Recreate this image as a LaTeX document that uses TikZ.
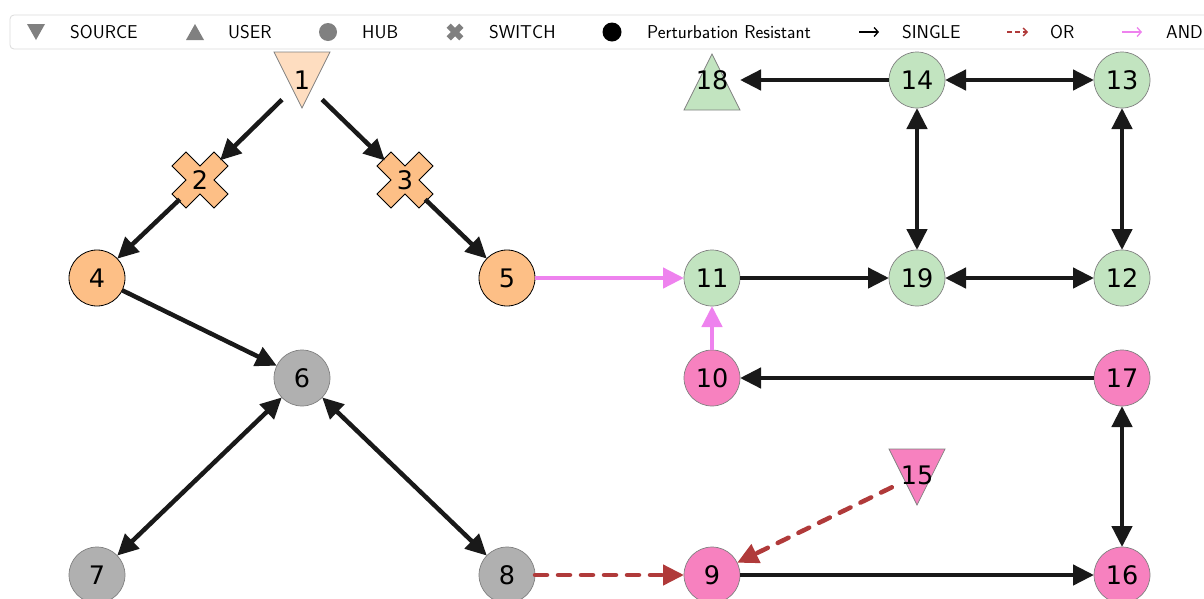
\documentclass[tikz,border=0pt]{standalone}
\usepackage{fontspec}
\newfontfamily\dejavu{DejaVu Sans}
\usetikzlibrary{arrows.meta}
\definecolor{cOrange}{HTML}{FDBF86}
\definecolor{cPeach}{HTML}{FEDDC0}
\definecolor{cGreen}{HTML}{C2E4C0}
\definecolor{cPink}{HTML}{F781BF}
\definecolor{cGray}{HTML}{B0B0B0}
\definecolor{cAnd}{HTML}{EE82EE}
\definecolor{cOrEdge}{HTML}{B03A3A}
\definecolor{cMark}{HTML}{808080}
\tikzset{
  nd/.style={circle, minimum size=56pt, inner sep=0pt, outer sep=0pt,
    font=\dejavu\fontsize{25.5}{25.5}\selectfont},
  circnd/.style={nd, draw=cMark, line width=0.7pt, fill=#1},
  resnd/.style={nd, draw=black, line width=0.8pt, fill=#1},
  single/.style={line width=4.5pt, draw=black!90, -{Triangle[length=21pt,width=20pt]}},
  both/.style={line width=4.5pt, draw=black!90, {Triangle[length=21pt,width=20pt]}-{Triangle[length=21pt,width=20pt]}},
  andedge/.style={line width=4.5pt, draw=cAnd, -{Triangle[length=21pt,width=20pt]}},
  oredge/.style={line width=4.5pt, draw=cOrEdge, dash pattern=on 12pt off 11pt, line cap=round,
    -{Triangle[length=21pt,width=20pt]}},
  dtri/.pic={\filldraw[fill=#1, draw=cMark, line width=0.7pt] (-28,-28) -- (28,-28) -- (0,28) -- cycle;},
  utri/.pic={\filldraw[fill=#1, draw=cMark, line width=0.7pt] (-28,28) -- (28,28) -- (0,-28) -- cycle;},
  xshape/.pic={\filldraw[fill=#1, draw=black, line width=0.8pt, rotate=45]
    (-9.9,-29.7) -- (9.9,-29.7) -- (9.9,-9.9) -- (29.7,-9.9) -- (29.7,9.9) -- (9.9,9.9) --
    (9.9,29.7) -- (-9.9,29.7) -- (-9.9,9.9) -- (-29.7,9.9) -- (-29.7,-9.9) -- (-9.9,-9.9) -- cycle;},
  legtext/.style={anchor=west, inner sep=0pt, font=\sffamily\fontsize{18.6}{18.6}\selectfont},
}
\begin{document}
\begin{tikzpicture}[x=1pt, y=-1pt]
\useasboundingbox (0,0) rectangle (1204,598);
\clip (0,0) rectangle (1204,598);

% special-shape positions
\coordinate (c1) at (302,80);
\coordinate (c2) at (200,180);
\coordinate (c3) at (405,180);
\coordinate (c15) at (917,477);
\coordinate (c18) at (712,82);
\pic at (c1) {dtri=cPeach};
\pic at (c2) {xshape=cOrange};
\pic at (c3) {xshape=cOrange};
\pic at (c15) {dtri=cPink};
\pic at (c18) {utri=cGreen};

% nodes
\node[nd] (n1) at (c1) {1};
\node[nd] (n2) at (c2) {2};
\node[nd] (n3) at (c3) {3};
\node[resnd=cOrange] (n4) at (97,278) {4};
\node[resnd=cOrange] (n5) at (507,278) {5};
\node[circnd=cGray] (n6) at (302,378) {6};
\node[circnd=cGray] (n7) at (97,575) {7};
\node[circnd=cGray] (n8) at (507,575) {8};
\node[circnd=cPink] (n9) at (712,575) {9};
\node[circnd=cPink] (n10) at (712,378) {10};
\node[circnd=cGreen] (n11) at (712,278) {11};
\node[circnd=cGreen] (n12) at (1122,278) {12};
\node[circnd=cGreen] (n13) at (1122,80) {13};
\node[circnd=cGreen] (n14) at (917,80) {14};
\node[nd] (n15) at (917,475) {15};
\node[circnd=cPink] (n16) at (1122,575) {16};
\node[circnd=cPink] (n17) at (1122,378) {17};
\node[nd] (n18) at (712,80) {18};
\node[circnd=cGreen] (n19) at (917,278) {19};

% edges
\draw[single] (n1) -- (n2);
\draw[single] (n1) -- (n3);
\draw[single] (n2) -- (n4);
\draw[single] (n3) -- (n5);
\draw[single] (n4) -- (n6);
\draw[both] (n6) -- (n7);
\draw[both] (n6) -- (n8);
\draw[oredge] (n8) -- (n9);
\draw[oredge] (n15) -- (n9);
\draw[single] (n9) -- (n16);
\draw[both] (n17) -- (n16);
\draw[single] (n17) -- (n10);
\draw[andedge] (n10) -- (n11);
\draw[andedge] (n5) -- (n11);
\draw[single] (n11) -- (n19);
\draw[both] (n19) -- (n12);
\draw[both] (n12) -- (n13);
\draw[both] (n14) -- (n13);
\draw[both] (n14) -- (n19);
\draw[single] (n14) -- (n18);

% legend
\draw[rounded corners=4pt, draw=black!14, fill=white, line width=0.8pt] (10,15) rectangle (1230,49);
\fill[cMark] (27,24) -- (45,24) -- (36,40) -- cycle;
\node[legtext] (lsrc) at (70,32) {SOURCE};
\fill[cMark] (186,40) -- (204,40) -- (195,24) -- cycle;
\node[legtext] (lusr) at (228,32) {USER};
\fill[cMark] (328,32) circle (9);
\node[legtext] (lhub) at (362,32) {HUB};
\fill[cMark, rotate around={45:(455,32)}]
  (452,23) -- (458,23) -- (458,29) -- (464,29) -- (464,35) -- (458,35) --
  (458,41) -- (452,41) -- (452,35) -- (446,35) -- (446,29) -- (452,29) -- cycle;
\node[legtext] (lsw) at (489,32) {SWITCH};
\fill[black] (612,32) circle (9.5);
\node[legtext] (lpr) at (647,32) {Perturbation Resistant};
\coordinate (a1s) at (859,32); \coordinate (a1e) at (879,32);
\draw[line width=1.3pt, black, -{Straight Barb[length=4pt,width=9pt]}] (a1s) -- (a1e);
\node[legtext] (lsing) at (902,32) {SINGLE};
\coordinate (a2s) at (1007,32); \coordinate (a2e) at (1028,32);
\draw[line width=1.3pt, cOrEdge, dash pattern=on 5pt off 3pt, -{Straight Barb[length=4pt,width=8pt]}] (a2s) -- (a2e);
\node[legtext] (lor) at (1050,32) {OR};
\coordinate (a3s) at (1122,32); \coordinate (a3e) at (1142,32);
\draw[line width=1.3pt, cAnd, -{Straight Barb[length=4pt,width=9pt]}] (a3s) -- (a3e);
\node[legtext] (land) at (1166,32) {AND};
\end{tikzpicture}
\end{document}
